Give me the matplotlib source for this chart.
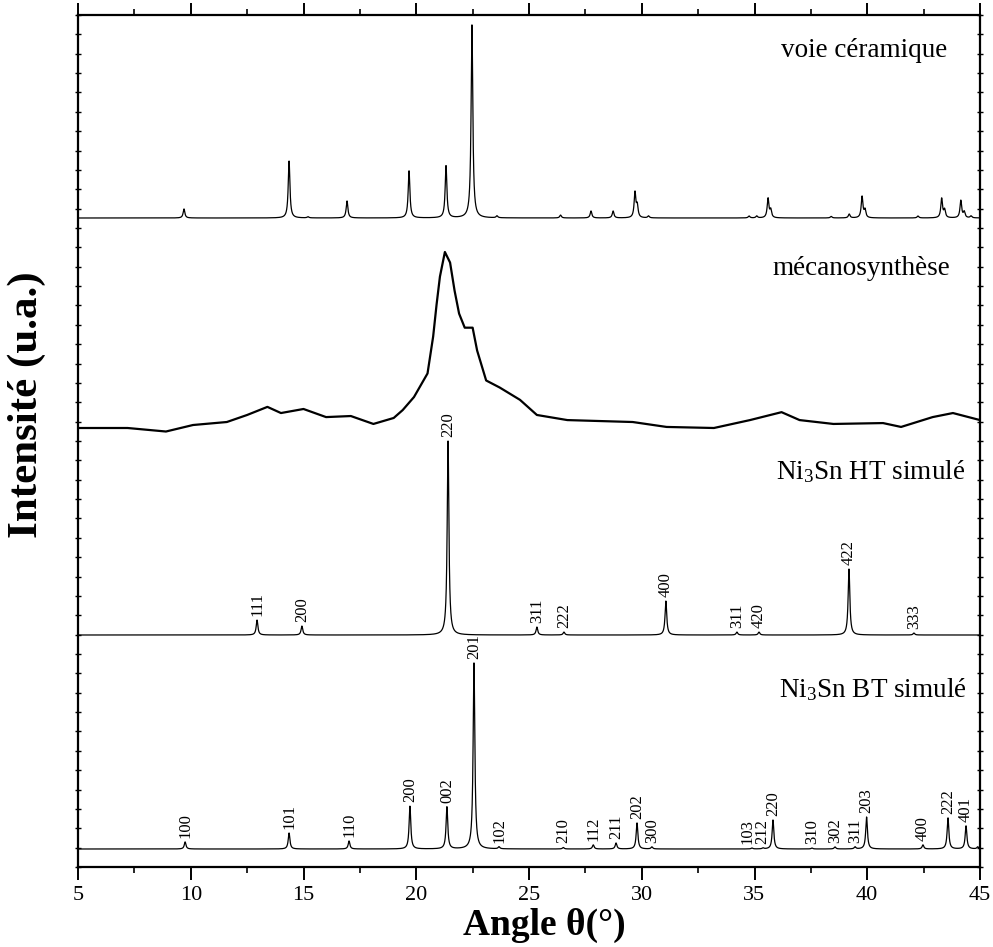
import numpy as np
import matplotlib
matplotlib.use("Agg")
import matplotlib.pyplot as plt
from matplotlib.ticker import MultipleLocator, NullFormatter

plt.rcParams['font.family'] = ['Liberation Serif', 'DejaVu Serif']
plt.rcParams['mathtext.fontset'] = 'custom'
plt.rcParams['mathtext.rm'] = 'Liberation Serif'
plt.rcParams['mathtext.it'] = 'Liberation Serif:italic'
plt.rcParams['mathtext.bf'] = 'Liberation Serif:bold'

# ---------------- data ----------------
# Ni3Sn BT simulated: peak positions (deg), relative intensities (%), hkl labels
bt_pos = [9.75, 14.36, 17.02, 19.72, 21.36, 22.56, 23.67, 26.52, 27.85, 28.86,
          29.79, 30.45, 34.89, 35.38, 35.82, 37.55, 38.57, 39.46, 39.97, 42.47,
          43.58, 44.38, 44.90]
bt_int = [3.8, 8.6, 4.3, 23.0, 22.6, 100.0, 1.1, 0.8, 2.2, 3.2,
          14.0, 1.1, 0.5, 0.5, 15.6, 0.5, 1.1, 1.1, 17.2, 2.2,
          16.7, 12.4, 1.1]
bt_hkl = ['100', '101', '110', '200', '002', '201', '102', '210', '112', '211',
          '202', '300', '103', '212', '220', '310', '302', '311', '203', '400',
          '222', '401', '']

# Ni3Sn HT simulated
ht_pos = [12.94, 14.93, 21.41, 25.35, 26.55, 31.07, 34.22, 35.20, 39.19, 42.07]
ht_int = [7.7, 4.6, 100.0, 4.1, 1.5, 17.5, 1.5, 1.5, 34.0, 1.0]
ht_hkl = ['111', '200', '220', '311', '222', '400', '311', '420', '422', '333']

# voie céramique (measured) peak list
cer_pos = [9.70, 14.36, 15.20, 16.93, 19.68, 21.32, 22.47, 23.58, 26.40, 27.75,
           28.73, 29.70, 29.80, 30.30, 34.76, 35.10, 35.60, 35.72, 38.40, 39.20,
           39.77, 39.90, 42.25, 43.30, 43.43, 44.15, 44.30, 44.60]
cer_int = [4.7, 29.5, 0.6, 8.8, 24.4, 27.0, 100.0, 1.0, 1.5, 3.6,
           3.6, 13.0, 6.0, 1.0, 1.0, 1.0, 10.0, 4.0, 0.8, 2.0,
           11.0, 4.0, 1.0, 10.0, 4.0, 9.0, 3.0, 1.0]

# mécanosynthèse (measured) envelope: angle (deg), relative intensity (%)
mec_ang = [5.0, 7.2, 8.9, 10.1, 11.6, 12.5, 13.4, 14.0, 15.0, 16.0, 17.1, 18.1,
           19.0, 19.4, 19.9, 20.5, 20.75, 20.9, 21.05, 21.27, 21.5, 21.7, 21.9,
           22.15, 22.5, 22.7, 23.1, 23.7, 24.6, 25.35, 26.7, 29.6, 31.1, 33.2,
           34.8, 36.2, 37.0, 38.5, 40.7, 41.5, 42.9, 43.8, 45.0]
mec_int = [0.0, 0.0, -2.0, 1.7, 3.4, 7.4, 12.0, 8.5, 10.8, 6.2, 6.8, 2.3,
           5.7, 10.2, 17.6, 31.0, 52.0, 70.0, 86.0, 100.0, 94.0, 78.0, 65.0,
           57.0, 57.0, 44.0, 27.0, 23.0, 16.0, 7.4, 4.5, 3.4, 0.6, 0.0,
           4.5, 9.0, 4.5, 2.3, 2.8, 0.6, 6.2, 8.5, 4.5]

series_names = ['voie céramique', 'mécanosynthèse',
                r'Ni$_3$Sn HT simulé', r'Ni$_3$Sn BT simulé']

x_ticks = [5, 10, 15, 20, 25, 30, 35, 40, 45]

# ---------------- layout constants ----------------
W, H = 993, 947
fig = plt.figure(figsize=(W / 100, H / 100), dpi=100)
ax = fig.add_axes([78 / W, 1 - 867 / H, (980 - 78) / W, (867 - 15) / H])

YMAX = 852.0
off_bt, sc_bt = 18.0, 1.86
off_ht, sc_ht = 232.0, 1.94
off_mec, sc_mec = 439.0, 1.76
off_cer, sc_cer = 649.0, 1.93

xg = np.linspace(5, 45, 8001)


def pattern(pos, inten, fwhm):
    g = fwhm / 2.0
    y = np.zeros_like(xg)
    for p, i in zip(pos, inten):
        y += i * (g ** 2) / ((xg - p) ** 2 + g ** 2)
    return y


lw = 0.9
ax.plot(xg, off_bt + sc_bt * pattern(bt_pos, bt_int, 0.09), color='black', lw=lw)
ax.plot(xg, off_ht + sc_ht * pattern(ht_pos, ht_int, 0.09), color='black', lw=lw)
ax.plot(xg, off_cer + sc_cer * pattern(cer_pos, cer_int, 0.09), color='black', lw=lw)
ax.plot(mec_ang, off_mec + sc_mec * np.array(mec_int), color='black', lw=1.6)

# hkl labels
lab_fs = 12
nudge = {'103': -0.2, '212': -0.05}
for p, i, t in zip(bt_pos, bt_int, bt_hkl):
    if not t:
        continue
    ax.annotate(t, (p + nudge.get(t, 0.0), off_bt + sc_bt * i), xytext=(0, 3),
                textcoords='offset points', rotation=90, ha='center', va='bottom',
                fontsize=lab_fs)
for p, i, t in zip(ht_pos, ht_int, ht_hkl):
    ax.annotate(t, (p, off_ht + sc_ht * i), xytext=(0, 3),
                textcoords='offset points', rotation=90, ha='center', va='bottom',
                fontsize=lab_fs)

# series names
name_fs = 19.5
ax.text(43.54, 810, series_names[0], ha='right', va='baseline', fontsize=name_fs)
ax.text(43.67, 592, series_names[1], ha='right', va='baseline', fontsize=name_fs)
ax.text(44.33, 388, series_names[2], ha='right', va='baseline', fontsize=name_fs)
ax.text(44.42, 170, series_names[3], ha='right', va='baseline', fontsize=name_fs)

ax.set_xlim(5, 45)
ax.set_ylim(0, YMAX)
ax.set_xticks(x_ticks)
ax.xaxis.set_minor_locator(MultipleLocator(2.5))
ax.yaxis.set_major_locator(MultipleLocator(YMAX / 44))
ax.yaxis.set_major_formatter(NullFormatter())

for s in ax.spines.values():
    s.set_linewidth(1.6)

ax.tick_params(axis='x', which='major', direction='out', length=9, width=1.4,
               labelsize=16, pad=5, top=True)
ax.tick_params(axis='x', which='minor', direction='out', length=4.5, width=1.2, top=True)
ax.tick_params(axis='y', which='major', direction='inout', length=4, width=1.0,
               left=True, right=True)
ax.xaxis.set_tick_params(which='both', labeltop=False)

fig.text(27 / W, 1 - 405 / H, 'Intensité (u.a.)', rotation=90, ha='center', va='center',
         fontsize=31, fontweight='bold')
fig.text(544 / W, 1 - 925 / H, 'Angle θ(°)', ha='center', va='center',
         fontsize=27, fontweight='bold')

fig.savefig('out.png', dpi=100)
